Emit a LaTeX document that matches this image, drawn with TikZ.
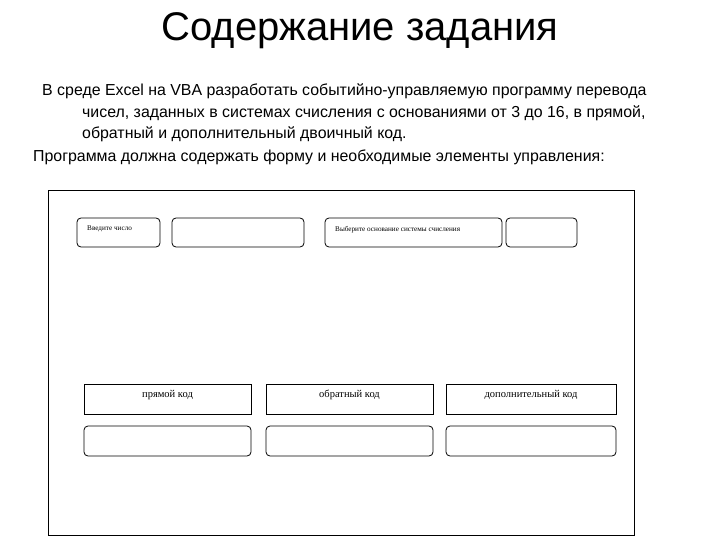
\documentclass[tikz,border=0pt]{standalone}
\usepackage{fontspec}
\setmainfont{Liberation Sans}
\newfontfamily\serifru{Liberation Serif}
\begin{document}
\begin{tikzpicture}[x=1pt,y=-1pt,
  rb/.style={draw,rounded corners=4pt,line width=0.8pt},
  sb/.style={draw,line width=0.8pt},
  lbl/.style={font=\serifru\fontsize{7.2}{8}\selectfont,anchor=north west,inner sep=0pt},
  lblc/.style={font=\serifru\fontsize{10.5}{12}\selectfont,anchor=north,inner sep=0pt},
  body/.style={anchor=base west,inner sep=0pt,font=\fontsize{15.9}{18}\selectfont}]
\useasboundingbox (0,0) rectangle (720,540);
\node[font=\fontsize{40}{44}\selectfont,inner sep=0pt] (title) at (360,31) {Содержание задания};
\node[body] (l1) at (42,96) {В среде Excel на VBA разработать событийно-управляемую программу перевода};
\node[body] (l2) at (82,118) {чисел, заданных в системах счисления с основаниями от 3 до 16, в прямой,};
\node[body] (l3) at (82,139) {обратный и дополнительный двоичный код.};
\node[body] (l4) at (33,162) {Программа должна содержать форму и необходимые элементы управления:};
\draw[sb] (48,190) rectangle (634,535);
\draw[rb] (77,218) rectangle (160,247);
\node[lbl] (t1) at (87,226) {Введите число};
\draw[rb] (172,218) rectangle (304,247);
\draw[rb] (325,218) rectangle (502,247);
\node[lbl] (t3) at (335,226) {Выберите основание системы счисления};
\draw[rb] (506,218) rectangle (577,247);
\draw[sb] (84,384) rectangle (251,414);
\node[lblc] (t5) at (167.5,390) {прямой код};
\draw[sb] (266,384) rectangle (433,414);
\node[lblc] (t6) at (349.5,390) {обратный код};
\draw[sb] (446,384) rectangle (616,414);
\node[lblc] (t7) at (531,390) {дополнительный код};
\draw[rb] (84,426) rectangle (251,456);
\draw[rb] (266,426) rectangle (433,456);
\draw[rb] (446,426) rectangle (616,456);
\end{tikzpicture}
\end{document}
